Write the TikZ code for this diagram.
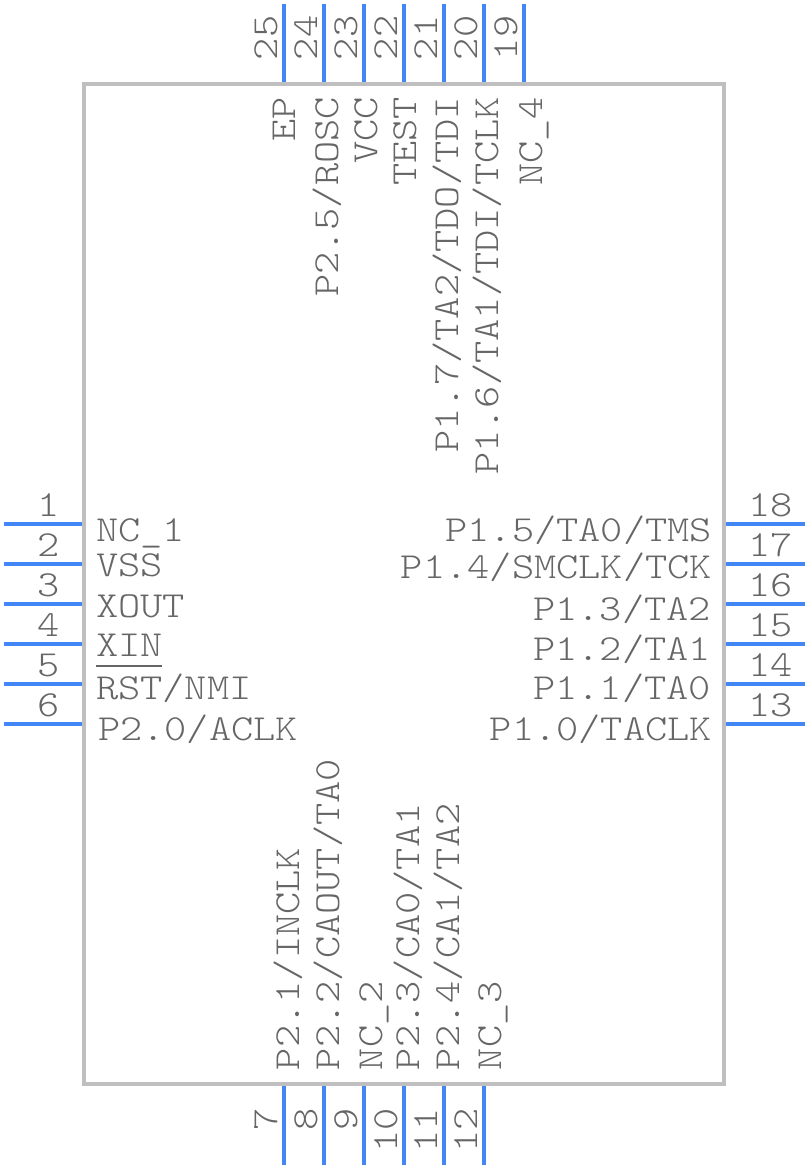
\documentclass[tikz,border=0pt]{standalone}
\usepackage{fontspec}
\setmonofont[FakeStretch=1.153]{Latin Modern Mono Light}
\definecolor{bodygray}{HTML}{BFBFBF}
\definecolor{pinblue}{HTML}{4287F5}
\definecolor{textgray}{HTML}{666666}
\tikzset{
  chiptext/.style={inner sep=0pt,outer sep=0pt,text=textgray,font=\fontsize{36.7}{37}\selectfont\ttfamily},
  upleft/.style={chiptext,rotate=90,anchor=base west},
  upright/.style={chiptext,rotate=90,anchor=base east},
  flatleft/.style={chiptext,anchor=base west},
  flatright/.style={chiptext,anchor=base east}
}
\begin{document}
\begin{tikzpicture}[x=1pt,y=-1pt,line width=4pt,line cap=butt,line join=miter]
\useasboundingbox (0,0) rectangle (808,1168);
\draw[bodygray] (84.2,84.2) rectangle (723.8,1083.8);
\draw[pinblue]
(3.5,523.8) -- (82,523.8)
(3.5,563.8) -- (82,563.8)
(3.5,603.8) -- (82,603.8)
(3.5,643.8) -- (82,643.8)
(3.5,683.8) -- (82,683.8)
(3.5,723.8) -- (82,723.8)
(726,523.8) -- (804.5,523.8)
(726,563.8) -- (804.5,563.8)
(726,603.8) -- (804.5,603.8)
(726,643.8) -- (804.5,643.8)
(726,683.8) -- (804.5,683.8)
(726,723.8) -- (804.5,723.8)
(284,3.5) -- (284,82)
(324,3.5) -- (324,82)
(364,3.5) -- (364,82)
(404,3.5) -- (404,82)
(444,3.5) -- (444,82)
(484,3.5) -- (484,82)
(524,3.5) -- (524,82)
(284,1086) -- (284,1165)
(324,1086) -- (324,1165)
(364,1086) -- (364,1165)
(404,1086) -- (404,1165)
(444,1086) -- (444,1165)
(484,1086) -- (484,1165);
% pin numbers
\node[flatright] (n1) at (60,516) {1};
\node[flatright] (n2) at (60,556) {2};
\node[flatright] (n3) at (60,596) {3};
\node[flatright] (n4) at (60,636) {4};
\node[flatright] (n5) at (60,676) {5};
\node[flatright] (n6) at (60,716) {6};
\node[flatleft] (n18) at (748,516) {18};
\node[flatleft] (n17) at (748,556) {17};
\node[flatleft] (n16) at (748,596) {16};
\node[flatleft] (n15) at (748,636) {15};
\node[flatleft] (n14) at (748,676) {14};
\node[flatleft] (n13) at (748,716) {13};
\node[upleft] (n25) at (277,60) {25};
\node[upleft] (n24) at (317,60) {24};
\node[upleft] (n23) at (357,60) {23};
\node[upleft] (n22) at (397,60) {22};
\node[upleft] (n21) at (437,60) {21};
\node[upleft] (n20) at (477,60) {20};
\node[upleft] (n19) at (517,60) {19};
\node[upright] (n7) at (277,1108) {7};
\node[upright] (n8) at (317,1108) {8};
\node[upright] (n9) at (357,1108) {9};
\node[upright] (n10) at (397,1108) {10};
\node[upright] (n11) at (437,1108) {11};
\node[upright] (n12) at (477,1108) {12};
% pin names
\node[flatleft] (ncone) at (96,541) {NC\_1};
\node[flatleft] (vss) at (96,576) {VSS};
\node[flatleft] (xout) at (96,617) {XOUT};
\node[flatleft] (xin) at (96,656) {XIN};
\node[flatleft] (rst) at (96,699) {RST/NMI};
\node[flatleft] (ptwozero) at (98,740) {P2.0/ACLK};
\draw[textgray,line width=2pt] (96,665.5) -- (162,665.5);
\node[flatright] (ponefive) at (712,541) {P1.5/TA0/TMS};
\node[flatright] (ponefour) at (712,578) {P1.4/SMCLK/TCK};
\node[flatright] (ponethree) at (711,620) {P1.3/TA2};
\node[flatright] (ponetwo) at (711,660) {P1.2/TA1};
\node[flatright] (poneone) at (711,699) {P1.1/TA0};
\node[flatright] (ponezero) at (712,740) {P1.0/TACLK};
\node[upright] (ep) at (295,97) {EP};
\node[upright] (ptwofive) at (338,97) {P2.5/ROSC};
\node[upright] (vcc) at (377,97) {VCC};
\node[upright] (test) at (416,97) {TEST};
\node[upright] (ponesev) at (458,97) {P1.7/TA2/TDO/TDI};
\node[upright] (onesix) at (498,97) {P1.6/TA1/TDI/TCLK};
\node[upright] (ncfour) at (542,97) {NC\_4};
\node[upleft] (twoone) at (299,1070) {P2.1/INCLK};
\node[upleft] (twotwo) at (339,1070) {P2.2/CAOUT/TA0};
\node[upleft] (nctwo) at (382,1070) {NC\_2};
\node[upleft] (twothree) at (419,1070) {P2.3/CA0/TA1};
\node[upleft] (twofour) at (459,1070) {P2.4/CA1/TA2};
\node[upleft] (ncthree) at (501,1070) {NC\_3};
\end{tikzpicture}
\end{document}
